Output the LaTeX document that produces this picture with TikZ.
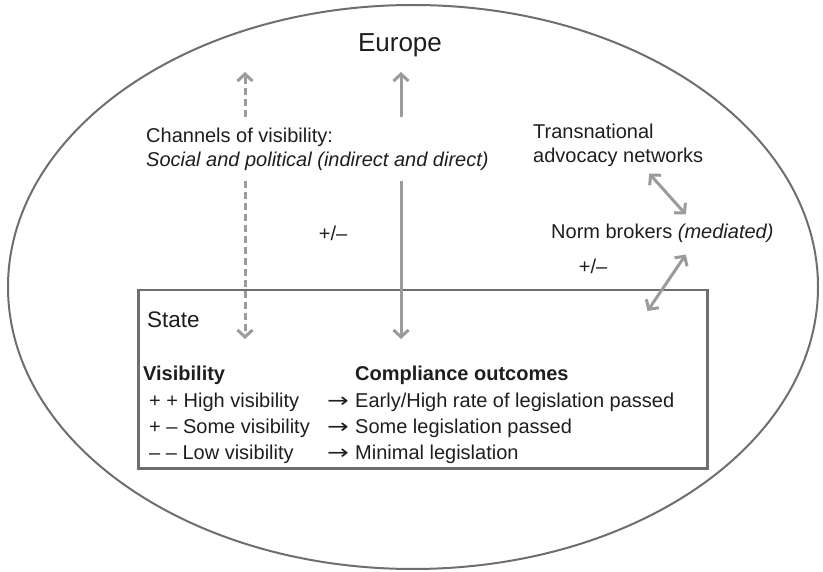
\documentclass[tikz,border=0pt]{standalone}
\usepackage{fontspec}
\setmainfont{Liberation Sans}
\newfontfamily\arrowfont{DejaVu Sans}
\usetikzlibrary{arrows.meta}
\usetikzlibrary{positioning}
\definecolor{rimgray}{HTML}{6E6E6E}
\definecolor{arrowgray}{HTML}{9B9B9B}
\definecolor{inkblack}{HTML}{1E1E1E}
\tikzset{visarrow/.style = {draw=arrowgray, line width=3pt,
                            -{Straight Barb[length=7pt, width=15pt]}}}
\tikzset{twoway/.style = {draw=arrowgray, line width=3pt,
                          {Straight Barb[length=7pt, width=15pt]}-{Straight Barb[length=7pt, width=15pt]}}}
\tikzset{plaintext/.style = {inner sep=0pt, text=inkblack}}
\newcommand{\ourarrow}{\scalebox{1.3}[1]{\arrowfont →}}

\begin{document}
\begin{tikzpicture}[x=1pt, y=-1pt, font=\fontsize{20pt}{24pt}\selectfont]
    \useasboundingbox (0, 0) rectangle (823, 572);

    \draw [rimgray, line width=2pt] (413, 287) ellipse [x radius=405pt, y radius=282pt];

    \node [plaintext] (europe) at (400, 45) {\fontsize{26pt}{30pt}\selectfont Europe};

    \node [plaintext, anchor=west, align=left, inner ysep=10pt] (channels) at (146, 149)
        {Channels of visibility:\\ \textit{Social and political (indirect and direct)}};

    \node [plaintext] (pmleft) at (333, 233) {+/–};

    \node [plaintext, anchor=west, align=left] (tan) at (533, 145) {Transnational\\advocacy networks};
    \node [plaintext, anchor=west] (broker) at (551, 233) {Norm brokers \textit{(mediated)}};
    \node [plaintext] (pmright) at (593, 266) {+/–};

    \node [draw=rimgray, line width=2.5pt, anchor=north west, inner sep=0pt,
           minimum width=569pt, minimum height=178pt] (state) at (137, 289) {};
    \node [plaintext, anchor=west] (statename) at (147, 320) {\fontsize{22.5pt}{26pt}\selectfont State};

    \node [plaintext, anchor=north west] (table) at (143, 362) {%
      \renewcommand{\arraystretch}{1.1}%
      \begin{tabular}{@{}p{184pt}@{}p{28pt}@{}l@{}}
        \textbf{Visibility} & & \textbf{Compliance outcomes}\\
        \hspace{6pt}+ + High visibility & \ourarrow & Early/High rate of legislation passed\\
        \hspace{6pt}+ – Some visibility & \ourarrow & Some legislation passed\\
        \hspace{6pt}– – Low visibility & \ourarrow & Minimal legislation
      \end{tabular}};

    \coordinate (dashtop) at (245, 72);
    \coordinate (dashend) at (245, 339);
    \coordinate (soltop) at (401, 72);
    \coordinate (solend) at (401, 339);

    % channels of visibility
    \draw [visarrow, dash pattern=on 7pt off 4pt] (channels.north -| dashtop) -- (dashtop);
    \draw [visarrow, dash pattern=on 7pt off 4pt] (channels.south -| dashend) -- (dashend);
    \draw [visarrow] (channels.north -| soltop) -- (soltop);
    \draw [visarrow] (channels.south -| solend) -- (solend);

    % mediated route
    \draw [twoway] ([shift={(31pt, -7pt)}]tan.south) -- ([shift={(23.5pt, 9pt)}]broker.north);
    \draw [twoway] ([shift={(23.5pt, -12pt)}]broker.south) -- ([shift={(-61pt, -22pt)}]state.north east);
\end{tikzpicture}
\end{document}
